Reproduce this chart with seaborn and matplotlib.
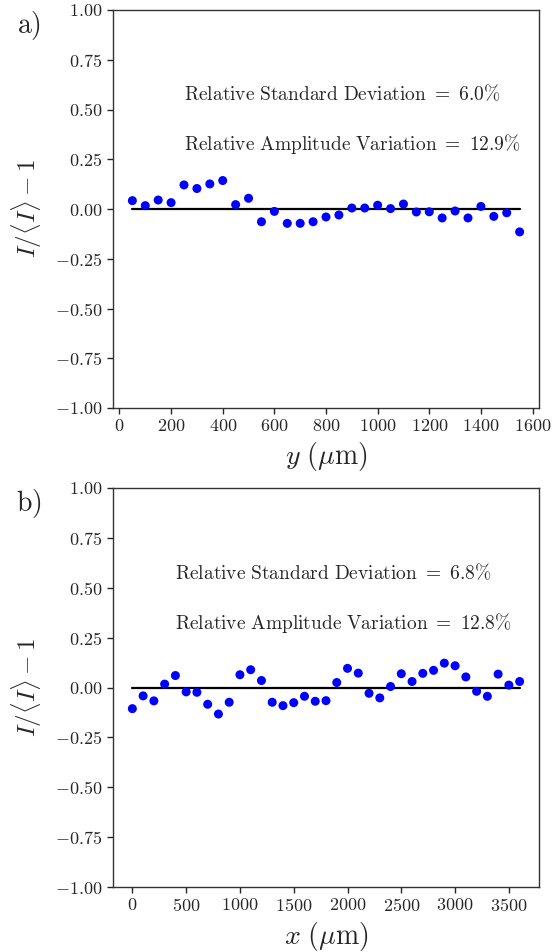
import numpy as np
import pandas as pd
import matplotlib
matplotlib.use("Agg")
import matplotlib.pyplot as plt
import seaborn as sns

# ---- data ----
y_pos = [50, 100, 150, 200, 250, 300, 350, 400, 450, 500, 550, 600, 650, 700, 750,
         800, 850, 900, 950, 1000, 1050, 1100, 1150, 1200, 1250, 1300, 1350, 1400,
         1450, 1500, 1550]
y_dev = [0.042, 0.017, 0.045, 0.032, 0.121, 0.103, 0.126, 0.143, 0.022, 0.054,
         -0.064, -0.012, -0.072, -0.072, -0.064, -0.040, -0.030, 0.005, 0.005,
         0.019, 0.002, 0.025, -0.015, -0.014, -0.045, -0.010, -0.045, 0.013,
         -0.037, -0.019, -0.115]

x_pos = [0, 100, 200, 300, 400, 500, 600, 700, 800, 900, 1000, 1100, 1200, 1300,
         1400, 1500, 1600, 1700, 1800, 1900, 2000, 2100, 2200, 2300, 2400, 2500,
         2600, 2700, 2800, 2900, 3000, 3100, 3200, 3300, 3400, 3500, 3600]
x_dev = [-0.106, -0.042, -0.067, 0.017, 0.060, -0.022, -0.024, -0.084, -0.133,
         -0.074, 0.064, 0.089, 0.035, -0.074, -0.091, -0.076, -0.044, -0.069,
         -0.066, 0.025, 0.096, 0.072, -0.029, -0.052, 0.005, 0.069, 0.030, 0.071,
         0.086, 0.122, 0.109, 0.053, -0.019, -0.044, 0.067, 0.012, 0.030]

panel_labels = ["a)", "b)"]
xlabels = [r"$y\ (\mu\mathrm{m})$", r"$x\ (\mu\mathrm{m})$"]
ylabel = r"$I/\langle I\rangle - 1$"
rsd = ["6.0", "6.8"]
rav = ["12.9", "12.8"]
yticks = [-1.00, -0.75, -0.50, -0.25, 0.00, 0.25, 0.50, 0.75, 1.00]

# ---- style ----
sns.set_style("ticks")
plt.rcParams["mathtext.fontset"] = "cm"
plt.rcParams["font.family"] = ["serif"]
plt.rcParams["font.serif"] = ["cmr10", "DejaVu Serif"]
plt.rcParams["axes.formatter.use_mathtext"] = True
plt.rcParams["axes.unicode_minus"] = True

fig = plt.figure(figsize=(5.55, 9.52), dpi=100)
ax_a = fig.add_axes([113 / 555, 1 - 408 / 952, 426 / 555, 398 / 952])
ax_b = fig.add_axes([113 / 555, 1 - 887 / 952, 426 / 555, 399 / 952])

datasets = [(ax_a, y_pos, y_dev, [0, 200, 400, 600, 800, 1000, 1200, 1400, 1600]),
            (ax_b, x_pos, x_dev, [0, 500, 1000, 1500, 2000, 2500, 3000, 3500])]

for i, (ax, xs, vals, xt) in enumerate(datasets):
    df = pd.DataFrame({"pos": xs, "dev": vals, "zero": np.zeros(len(xs))})
    sns.lineplot(data=df, x="pos", y="zero", ax=ax, color="black", linewidth=1.6,
                 zorder=1)
    sns.scatterplot(data=df, x="pos", y="dev", ax=ax, color="blue", s=42,
                    edgecolor="none", zorder=2)
    ax.set_ylim(-1.0, 1.0)
    ax.set_yticks(yticks)
    ax.set_yticklabels([f"${t:.2f}$" for t in yticks])
    ax.set_xticks(xt)
    ax.set_xticklabels([f"${t}$" for t in xt])
    ax.tick_params(labelsize=13, length=4, width=1, direction="out")
    for sp in ax.spines.values():
        sp.set_visible(True)
        sp.set_linewidth(1.0)
        sp.set_color("#333333")
    ax.set_xlabel(xlabels[i], fontsize=20)
    ax.set_ylabel(ylabel, fontsize=18)
    ax.yaxis.set_label_coords(-0.162, 0.5)
    x0 = 250 if i == 0 else 400
    ax.text(x0, 0.545,
            r"$\mathrm{Relative\ Standard\ Deviation}\ =\ " + rsd[i] + r"\%$",
            fontsize=14, va="baseline", ha="left")
    ax.text(x0, 0.295,
            r"$\mathrm{Relative\ Amplitude\ Variation}\ =\ " + rav[i] + r"\%$",
            fontsize=14, va="baseline", ha="left")
    ax.text(-0.197, 0.96, r"$\mathrm{" + panel_labels[i] + "}$", transform=ax.transAxes,
            fontsize=20, va="center", ha="center")

ax_a.set_xlim(-25, 1625)
ax_b.set_xlim(-180, 3780)

fig.savefig("out.png", dpi=100)
